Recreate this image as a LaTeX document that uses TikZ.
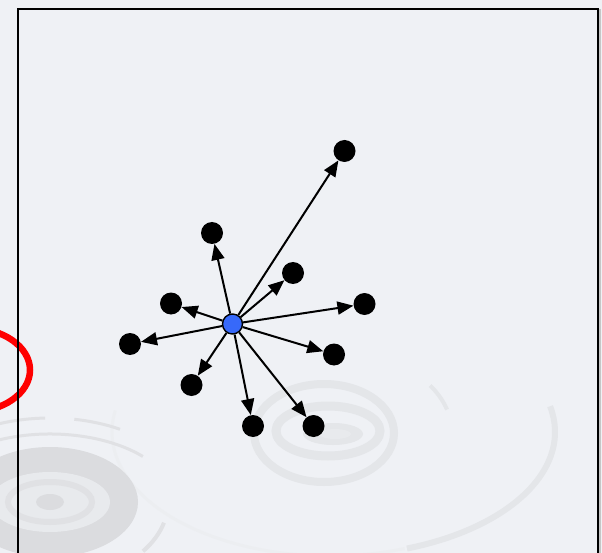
\documentclass[tikz,border=0pt]{standalone}
\usetikzlibrary{arrows.meta}
\definecolor{bg}{HTML}{EFF1F5}
\definecolor{rip}{HTML}{E4E6E9}
\definecolor{ripd}{HTML}{DBDCDF}
\definecolor{ripm}{HTML}{E0E1E4}
\definecolor{ripl}{HTML}{E8EAED}
\definecolor{ripf}{HTML}{ECEEF1}
\definecolor{nodeblue}{RGB}{55,105,250}
\begin{document}
\begin{tikzpicture}[x=1pt,y=-1pt,
  dot/.style={circle,fill=black,minimum size=22pt,inner sep=0pt},
  hub/.style={circle,fill=nodeblue,draw=black,line width=1.4pt,minimum size=20pt,inner sep=0pt},
  arr/.style={line width=2pt,-{Triangle[length=16pt,width=13pt]}}]
\useasboundingbox (0,0) rectangle (602,553);
\clip (0,0) rectangle (602,553);
\fill[bg] (0,0) rectangle (602,553);
% main ripple
\draw[ripf, line width=3pt] (330,432) ++(70:218 and 124) arc[start angle=70, end angle=190, x radius=218, y radius=124];
\draw[rip, line width=6pt] (330,432) ++(-12:225 and 124) arc[start angle=-12, end angle=70, x radius=225, y radius=124];
\draw[rip, line width=4pt] (324,433) ++(-34:128 and 85) arc[start angle=-34, end angle=-16, x radius=128, y radius=85];
\draw[rip, line width=8pt] (324,433) ellipse [x radius=70, y radius=49];
\draw[rip, line width=9pt] (328,431) ellipse [x radius=52, y radius=25];
\fill[rip] (333,434) ellipse [x radius=30, y radius=11];
\fill[ripl] (335,434) ellipse [x radius=16, y radius=5];
% lower-left ripple
\draw[ripm, line width=3pt] (50,502) ++(200:140 and 84) arc[start angle=200, end angle=268, x radius=140, y radius=84];
\draw[ripm, line width=3pt] (50,502) ++(280:140 and 84) arc[start angle=280, end angle=300, x radius=140, y radius=84];
\draw[ripm, line width=3pt] (50,502) ++(195:125 and 68) arc[start angle=195, end angle=318, x radius=125, y radius=68];
\draw[ripm, line width=4pt] (50,502) ++(15:118 and 80) arc[start angle=15, end angle=38, x radius=118, y radius=80];
\fill[ripd] (50,502) ellipse [x radius=88, y radius=55];
\fill[ripl] (50,502) ellipse [x radius=60, y radius=30];
\draw[ripm, line width=6pt] (50,502) ellipse [x radius=42, y radius=20];
\fill[ripd] (50,502) ellipse [x radius=14, y radius=8];
% red ellipse
\draw[red, line width=6.5pt] (-30,370) ellipse [x radius=60, y radius=42];
% frame
\draw[line width=1.5pt] (18,560) -- (18,9) -- (598,9) -- (598,560);
\draw[gray!45, line width=1.2pt] (600,9) -- (600,560);
% nodes
\node[hub] (c) at (232.5,324) {};
\node[dot] (n1) at (344.5,151) {};
\node[dot] (n2) at (212,233) {};
\node[dot] (n3) at (293,273) {};
\node[dot] (n4) at (171,303.5) {};
\node[dot] (n5) at (364.5,304) {};
\node[dot] (n6) at (130,344) {};
\node[dot] (n7) at (334,354.5) {};
\node[dot] (n8) at (191.5,385) {};
\node[dot] (n9) at (253,426) {};
\node[dot] (n10) at (313.5,426) {};
\foreach \n in {n1,n2,n3,n4,n5,n6,n7,n8,n9,n10}
  \draw[arr] (c) -- (\n);
\end{tikzpicture}
\end{document}
